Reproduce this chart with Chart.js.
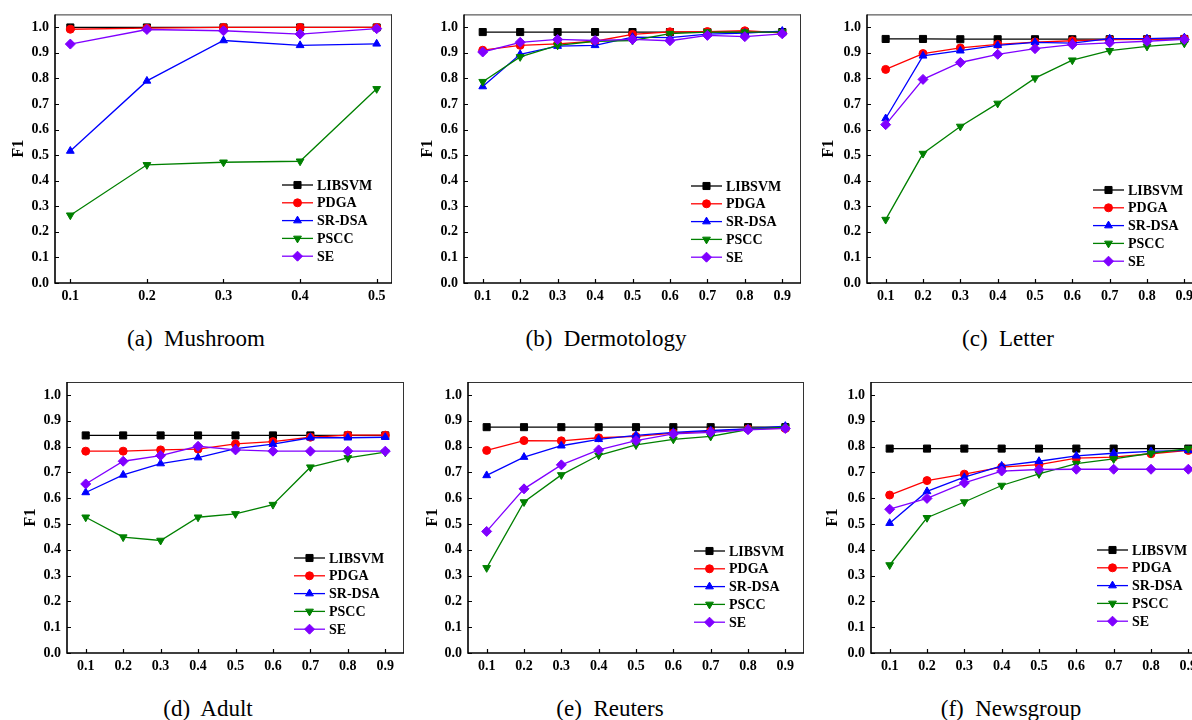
<!DOCTYPE html>
<html><head><meta charset="utf-8">
<script src="https://cdn.jsdelivr.net/npm/chart.js@4"></script>
<style>
html,body{margin:0;padding:0;background:#fff;width:1192px;height:720px;overflow:hidden;position:relative;}
canvas.pan{position:absolute;}
.cap{position:absolute;font-family:"Liberation Serif","Times New Roman",serif;font-size:23px;color:#000;white-space:pre;transform:translate(-50%,-50%);line-height:1;}
</style></head><body>
<script>
// ---------- data ----------
const seriesNames = ['LIBSVM','PDGA','SR-DSA','PSCC','SE'];
const xFive = [0.1,0.2,0.3,0.4,0.5];
const xNine = [0.1,0.2,0.3,0.4,0.5,0.6,0.7,0.8,0.9];
const yTicks = [0,0.1,0.2,0.3,0.4,0.5,0.6,0.7,0.8,0.9,1.0];

// (a) Mushroom
const mushLIBSVM = [0.999,0.999,0.999,0.999,0.999];
const mushPDGA   = [0.992,0.996,0.999,0.999,0.999];
const mushSRDSA  = [0.516,0.790,0.948,0.929,0.935];
const mushPSCC   = [0.265,0.462,0.472,0.476,0.759];
const mushSE     = [0.934,0.991,0.986,0.973,0.994];
// (b) Dermotology
const dermLIBSVM = [0.981,0.981,0.981,0.981,0.981,0.981,0.981,0.981,0.981];
const dermPDGA   = [0.910,0.929,0.935,0.945,0.972,0.982,0.983,0.986,0.978];
const dermSRDSA  = [0.768,0.894,0.926,0.929,0.961,0.959,0.973,0.977,0.985];
const dermPSCC   = [0.787,0.884,0.929,0.945,0.948,0.975,0.981,0.981,0.981];
const dermSE     = [0.903,0.941,0.952,0.948,0.952,0.947,0.968,0.963,0.974];
// (c) Letter
const letLIBSVM = [0.954,0.954,0.953,0.953,0.953,0.953,0.953,0.953,0.954];
const letPDGA   = [0.835,0.897,0.919,0.933,0.942,0.947,0.951,0.952,0.955];
const letSRDSA  = [0.643,0.888,0.908,0.929,0.941,0.938,0.955,0.955,0.959];
const letPSCC   = [0.248,0.506,0.612,0.702,0.801,0.871,0.908,0.925,0.937];
const letSE     = [0.619,0.796,0.862,0.894,0.916,0.932,0.939,0.945,0.952];
// (d) Adult
const adLIBSVM = [0.843,0.843,0.843,0.843,0.843,0.843,0.843,0.843,0.843];
const adPDGA   = [0.782,0.782,0.787,0.790,0.810,0.819,0.836,0.844,0.844];
const adSRDSA  = [0.622,0.690,0.734,0.757,0.792,0.809,0.834,0.834,0.836];
const adPSCC   = [0.526,0.449,0.436,0.526,0.539,0.575,0.720,0.756,0.778];
const adSE     = [0.655,0.743,0.765,0.801,0.787,0.782,0.782,0.782,0.782];
// (e) Reuters
const reuLIBSVM = [0.875,0.875,0.875,0.875,0.875,0.875,0.875,0.875,0.875];
const reuPDGA   = [0.785,0.823,0.822,0.834,0.839,0.852,0.859,0.868,0.870];
const reuSRDSA  = [0.688,0.759,0.803,0.828,0.843,0.855,0.862,0.868,0.879];
const reuPSCC   = [0.330,0.585,0.690,0.766,0.806,0.828,0.839,0.866,0.875];
const reuSE     = [0.471,0.636,0.729,0.787,0.823,0.849,0.855,0.865,0.870];
// (f) Newsgroup
const newsLIBSVM = [0.792,0.792,0.792,0.792,0.792,0.792,0.792,0.792,0.792];
const newsPDGA   = [0.612,0.668,0.693,0.720,0.730,0.755,0.759,0.772,0.785];
const newsSRDSA  = [0.503,0.626,0.681,0.725,0.743,0.764,0.774,0.781,0.785];
const newsPSCC   = [0.341,0.524,0.585,0.649,0.694,0.734,0.752,0.774,0.792];
const newsSE     = [0.557,0.599,0.659,0.705,0.711,0.712,0.712,0.712,0.712];

const captions = ['(a)  Mushroom','(b)  Dermotology','(c)  Letter','(d)  Adult','(e)  Reuters','(f)  Newsgroup'];

// ---------- styles ----------
const colors = ['#000000','#ff0000','#0000ff','#008000','#8000ff'];
const pStyles = ['rect','circle','triangle','triangle','rectRot'];
const pRot = [0,0,0,180,0];
const pRad = [5,4,4.5,4.5,5];
const SERIF = '"Liberation Serif","Times New Roman",serif';

const panels = [
  {x:xFive, s:[mushLIBSVM,mushPDGA,mushSRDSA,mushPSCC,mushSE], left:0,   top:0,   w:400, h:310, yw:55, padR:8,  padT:12, xh:27, xmin:0.08, xmax:0.52, tp:9.4,  legDy:-98,  cx:196,  cy:338},
  {x:xNine, s:[dermLIBSVM,dermPDGA,dermSRDSA,dermPSCC,dermSE], left:400, top:0, w:410, h:310, yw:64, padR:9,  padT:12, xh:27, xmin:0.05, xmax:0.95, tp:17.9, legDy:-97,  cx:606,  cy:338},
  {x:xNine, s:[letLIBSVM,letPDGA,letSRDSA,letPSCC,letSE],      left:802, top:0, w:413, h:310, yw:65, padR:12, padT:12, xh:27, xmin:0.05, xmax:0.95, tp:17.4, legDy:-93,  cx:1008, cy:338},
  {x:xNine, s:[adLIBSVM,adPDGA,adSRDSA,adPSCC,adSE],           left:0,   top:360, w:414, h:320, yw:67, padR:10, padT:22, xh:27, xmin:0.05, xmax:0.95, tp:21.4, legDy:-95,  cx:208,  cy:708},
  {x:xNine, s:[reuLIBSVM,reuPDGA,reuSRDSA,reuPSCC,reuSE],      left:402, top:360, w:412, h:320, yw:66, padR:10, padT:22, xh:27, xmin:0.05, xmax:0.95, tp:20.9, legDy:-102, cx:610,  cy:708},
  {x:xNine, s:[newsLIBSVM,newsPDGA,newsSRDSA,newsPSCC,newsSE], left:804, top:360, w:413, h:320, yw:67, padR:10, padT:22, xh:27, xmin:0.05, xmax:0.95, tp:19.4, legDy:-103, cx:1011, cy:708}
];

const framePlugin = {
  id:'frame',
  beforeDatasetsDraw(chart){
    const {ctx, chartArea:a, scales:{x, y}} = chart;
    ctx.save();
    ctx.strokeStyle = '#333'; ctx.lineWidth = 1;
    ctx.beginPath();
    ctx.moveTo(a.left, a.top + 0.5); ctx.lineTo(a.right, a.top + 0.5);
    ctx.moveTo(a.right - 0.5, a.top); ctx.lineTo(a.right - 0.5, a.bottom);
    ctx.stroke();
    ctx.strokeStyle = '#000'; ctx.lineWidth = 1.6;
    ctx.beginPath();
    ctx.moveTo(a.left, a.top); ctx.lineTo(a.left, a.bottom); ctx.lineTo(a.right, a.bottom);
    ctx.stroke();
    ctx.lineWidth = 1.2;
    ctx.beginPath();
    y.ticks.forEach(t => { const py = Math.round(y.getPixelForValue(t.value)) + 0.5; ctx.moveTo(a.left, py); ctx.lineTo(a.left + 4, py); });
    x.ticks.forEach(t => { const px = Math.round(x.getPixelForValue(t.value)) + 0.5; ctx.moveTo(px, a.bottom); ctx.lineTo(px, a.bottom - 4); });
    ctx.stroke();
    ctx.restore();
  },
  afterDraw(chart, args, opts){
    const {ctx, chartArea:a} = chart;
    ctx.save();
    chart.data.datasets.forEach((ds, i) => {
      const yy = a.bottom + opts.legDy + i * 17.8;
      const x0 = a.right - 110, x1 = a.right - 79;
      ctx.strokeStyle = ds.borderColor; ctx.lineWidth = 1.3;
      ctx.beginPath(); ctx.moveTo(x0, yy); ctx.lineTo(x1, yy); ctx.stroke();
      ctx.fillStyle = ds.backgroundColor; ctx.strokeStyle = ds.borderColor; ctx.lineWidth = 1;
      Chart.helpers.drawPoint(ctx, {pointStyle: ds.pointStyle, rotation: ds.rotation, radius: ds.pointRadius, borderWidth: 1}, (x0 + x1) / 2, yy);
      ctx.fillStyle = '#000';
      ctx.font = 'bold 14px ' + SERIF;
      ctx.textBaseline = 'middle'; ctx.textAlign = 'left';
      ctx.fillText(ds.label, a.right - 75, yy + 1);
    });
    ctx.restore();
  }
};

panels.forEach((p, k) => {
  const cv = document.createElement('canvas');
  cv.className = 'pan';
  cv.width = p.w; cv.height = p.h;
  cv.style.left = p.left + 'px'; cv.style.top = p.top + 'px';
  cv.style.width = p.w + 'px'; cv.style.height = p.h + 'px';
  document.body.appendChild(cv);
  const tickFont = {family: SERIF, size: 14, weight: 'bold'};
  new Chart(cv, {
    type: 'line',
    data: {
      datasets: seriesNames.map((n, i) => ({
        label: n,
        data: p.x.map((xv, j) => ({x: xv, y: p.s[i][j]})),
        borderColor: colors[i], backgroundColor: colors[i],
        pointStyle: pStyles[i], rotation: pRot[i], pointRadius: pRad[i],
        pointBorderWidth: 1, borderWidth: 1.3, tension: 0, order: 5 - i
      }))
    },
    options: {
      responsive: false, animation: false, devicePixelRatio: 1,
      layout: {padding: {left: 0, right: p.padR, top: p.padT, bottom: 0}},
      plugins: {legend: {display: false}, tooltip: {enabled: false}, frame: {legDy: p.legDy}},
      scales: {
        x: {
          type: 'linear', min: p.xmin, max: p.xmax,
          grid: {display: false, drawTicks: false}, border: {display: false},
          ticks: {padding: 5, font: tickFont, color: '#000', maxRotation: 0, autoSkip: false, callback: v => Number(v).toFixed(1)},
          afterBuildTicks: s => { s.ticks = p.x.map(v => ({value: v})); },
          afterFit: s => { s.height = p.xh; }
        },
        y: {
          type: 'linear', min: 0, max: 1.05,
          grid: {display: false, drawTicks: false}, border: {display: false},
          ticks: {padding: 6, font: tickFont, color: '#000', autoSkip: false, callback: v => Number(v).toFixed(1)},
          afterBuildTicks: s => { s.ticks = yTicks.map(v => ({value: v})); },
          afterFit: s => { s.width = p.yw; },
          title: {display: true, text: 'F1', color: '#000', font: {family: SERIF, size: 16, weight: 'bold'}, padding: {top: p.tp, bottom: 0}}
        }
      }
    },
    plugins: [framePlugin]
  });
  const c = document.createElement('div');
  c.className = 'cap';
  c.textContent = captions[k];
  c.style.left = p.cx + 'px'; c.style.top = p.cy + 'px';
  document.body.appendChild(c);
});
</script>
</body></html>
